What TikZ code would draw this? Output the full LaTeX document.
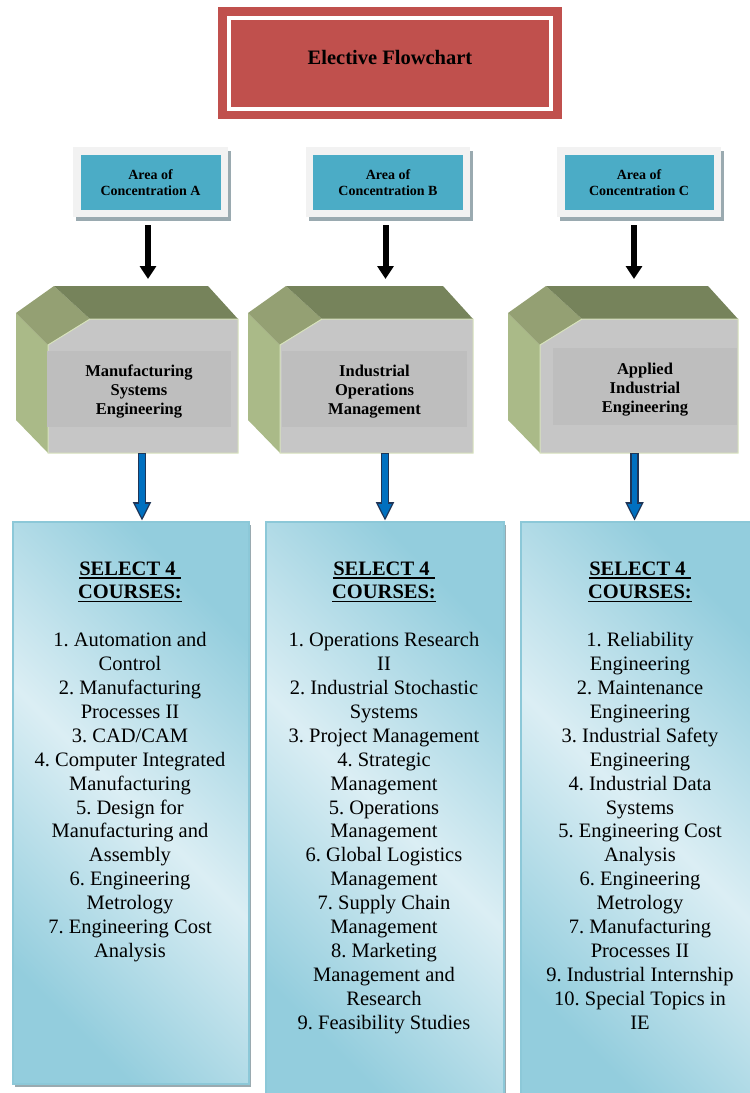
\documentclass[tikz,border=0pt]{standalone}
\usepackage{fontspec}
\setmainfont{Liberation Serif}
\usetikzlibrary{arrows.meta,calc}
\frenchspacing
\definecolor{titlered}{HTML}{C0504D}
\definecolor{tealc}{HTML}{4BACC6}
\definecolor{areabg}{HTML}{F2F2F2}
\definecolor{shadowgray}{HTML}{9AAAB0}
\definecolor{topgreen}{HTML}{76835B}
\definecolor{bevelgreen}{HTML}{94A073}
\definecolor{leftgreen}{HTML}{AABA88}
\definecolor{frontgray}{HTML}{C6C6C6}
\definecolor{innergray}{HTML}{BEBEBE}
\definecolor{edgegreen}{HTML}{D7E2BC}
\definecolor{cdark}{HTML}{93CDDD}
\definecolor{clight}{HTML}{DBEEF4}
\definecolor{cborder}{HTML}{8CC8D8}
\definecolor{arrowblue}{HTML}{0070C0}
\definecolor{arrownavy}{HTML}{1F3557}
\newsavebox{\ulbox}
\newcommand{\ulx}[1]{\sbox{\ulbox}{#1}\rlap{\rule[-3.5pt]{\wd\ulbox}{1.8pt}}\usebox{\ulbox}}
\newcommand{\cubeshape}[2]{%
  \fill[leftgreen] (#1,313) -- (#1+32,345) -- (#1+32,453) -- (#1,420) -- cycle;
  \fill[bevelgreen] (#1,313) -- (#1+38,286) -- (#1+74,319) -- (#1+32,345) -- cycle;
  \fill[topgreen] (#1+38,286) -- (#2-30,286) -- (#2,319) -- (#1+74,319) -- cycle;
  \filldraw[fill=frontgray, draw=edgegreen, line width=1pt] (#1+32,345) -- (#1+74,319) -- (#2,319) -- (#2,453) -- (#1+32,453) -- cycle;
}
\newcommand{\areabox}[5]{% cx, outer w, inner w, name, letter
  \fill[shadowgray] (#1-#2/2+3,151) rectangle (#1+#2/2+3,221);
  \fill[areabg] (#1-#2/2,147) rectangle (#1+#2/2,217);
  \node[areanode, minimum width=#3] (#4) at (#1,182.5) {Area of\\Concentration #5};
}
\tikzset{
  titletext/.style={font=\fontsize{20.5}{24}\selectfont\bfseries, inner sep=0},
  areanode/.style={fill=tealc, minimum height=55, align=center, inner sep=0,
    font=\fontsize{14}{16.5}\selectfont\bfseries},
  innerbox/.style={fill=innergray, inner sep=0, minimum height=76},
  innertext/.style={align=center, inner sep=0, font=\fontsize{16.5}{19}\selectfont\bfseries},
  blackarrow/.style={line width=6pt, -{Triangle[width=16pt,length=13pt]}},
  bluearrowout/.style={draw=arrownavy, line width=8.4pt, -{Triangle[width=17pt,length=19pt]}},
  bluearrowin/.style={draw=arrowblue, line width=5.6pt, shorten >=3pt, -{Triangle[width=12.5pt,length=14pt]}},
  coursebox/.style={draw=cborder, line width=1.5pt, anchor=north west, inner sep=0,
    left color=cdark, right color=cdark, middle color=clight, shading angle=-45},
  courseshadow/.style={fill=shadowgray},
  listnode/.style={anchor=base, inner sep=0}
}
\newcommand{\listfont}{\fontsize{20.5}{23.9}\selectfont}
\newcommand{\selecthead}{\textbf{\ulx{SELECT 4\ }}\\\textbf{\ulx{COURSES:}}\\[23.9pt]}
\begin{document}
\begin{tikzpicture}[x=1pt,y=-1pt]
\useasboundingbox (0,0) rectangle (750,1093);
\clip (0,0) rectangle (750,1093);
% title
\node[fill=titlered, minimum width=344, minimum height=112, inner sep=0] (title) at (390,63) {};
\draw[white, line width=4pt] ($(title.north west)+(11,11)$) rectangle ($(title.south east)+(-11,-10)$);
\node[titletext] (titletxt) at (390,57) {Elective Flowchart};
% areas
\areabox{150.5}{155}{140}{areaA}{A}
\areabox{388}{164}{150}{areaB}{B}
\areabox{639}{164}{149}{areaC}{C}
% cubes
\cubeshape{16}{238}
\cubeshape{248}{473}
\cubeshape{508}{738}
\node[innerbox, minimum width=184] (msA) at (139,389) {};
\node[innerbox, minimum width=185] (msB) at (374.5,389) {};
\node[innerbox, minimum width=184, minimum height=77] (msC) at (645,386.5) {};
\node[innertext] (msAt) at ($(msA)+(0,3)$) {Manufacturing\\Systems\\Engineering};
\node[innertext] (msBt) at ($(msB)+(0,3)$) {Industrial\\Operations\\Management};
\node[innertext] (msCt) at ($(msC)+(0,3)$) {Applied\\Industrial\\Engineering};
% black arrows
\coordinate (ta) at (148,279);
\coordinate (tb) at (385.5,279);
\coordinate (tc) at (634,279);
\foreach \t/\a in {ta/areaA, tb/areaB, tc/areaC}
  \draw[blackarrow, shorten <=15pt] (\t |- \a.south) -- (\t);
% course boxes
\fill[courseshadow] (15,525) rectangle (251,1087);
\node[coursebox, minimum width=236, minimum height=562] (courseA) at (12,521) {};
\fill[courseshadow] (268,525) rectangle (506,1100);
\node[coursebox, minimum width=238, minimum height=580] (courseB) at (265,521) {};
\node[coursebox, minimum width=240, minimum height=580] (courseC) at (520,521) {};
% blue arrows
\coordinate (ba) at (142,453);
\coordinate (bb) at (385,453);
\coordinate (bc) at (634.5,453);
\foreach \b/\c in {ba/courseA, bb/courseB, bc/courseC}{
  \draw[bluearrowout] (\b) -- (\b |- \c.north);
  \draw[bluearrowin] ($(\b)+(0,1)$) -- (\b |- \c.north);
}
% lists
\node[listnode] (listA) at (130,575) {\parbox[t]{236pt}{\centering\listfont
\selecthead
1. Automation and\\Control\\2. Manufacturing\\Processes II\\3. CAD/CAM\\4. Computer Integrated\\Manufacturing\\5. Design for\\Manufacturing and\\Assembly\\6. Engineering\\Metrology\\7. Engineering Cost\\Analysis}};
\node[listnode] (listB) at (384,575) {\parbox[t]{238pt}{\centering\listfont
\selecthead
1. Operations Research\\II\\2. Industrial Stochastic\\Systems\\3. Project Management\\4. Strategic\\Management\\5. Operations\\Management\\6. Global Logistics\\Management\\7. Supply Chain\\Management\\8. Marketing\\Management and\\Research\\9. Feasibility Studies}};
\node[listnode] (listC) at (640,575) {\parbox[t]{240pt}{\centering\listfont
\selecthead
1. Reliability\\Engineering\\2. Maintenance\\Engineering\\3. Industrial Safety\\Engineering\\4. Industrial Data\\Systems\\5. Engineering Cost\\Analysis\\6. Engineering\\Metrology\\7. Manufacturing\\Processes II\\9. Industrial Internship\\10. Special Topics in\\IE}};
\end{tikzpicture}
\end{document}
